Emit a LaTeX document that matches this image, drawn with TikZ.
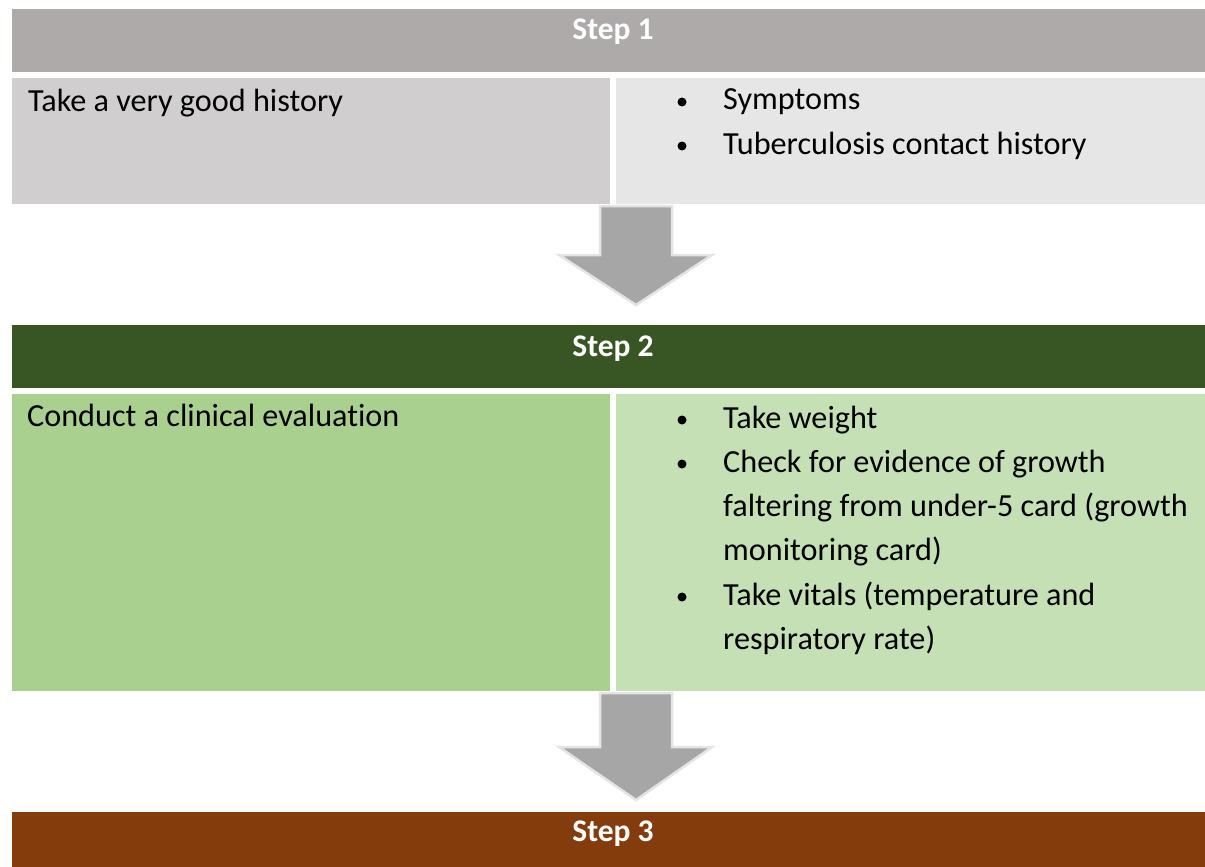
\documentclass[tikz,border=0pt]{standalone}
\usepackage{fontspec}
\setmainfont{Carlito}[Ligatures=NoCommon]
\definecolor{hdrgray}{HTML}{AEAAAA}
\definecolor{cellgrayA}{HTML}{D0CECE}
\definecolor{cellgrayB}{HTML}{E7E6E6}
\definecolor{hdrgreen}{HTML}{375623}
\definecolor{cellgreenA}{HTML}{A9D08E}
\definecolor{cellgreenB}{HTML}{C5E0B4}
\definecolor{hdrbrown}{HTML}{843C0C}
\definecolor{arrowfill}{HTML}{A6A6A6}
\definecolor{arrowedge}{HTML}{E4E4E4}
\begin{document}
\begin{tikzpicture}[x=1pt,y=-1pt,
  cell/.style={draw=none,inner sep=0pt,outer sep=0pt,anchor=north west},
  hdrtext/.style={text=white,inner sep=0pt,anchor=base,font=\fontsize{31.5}{38}\selectfont\bfseries},
  body/.style={inner sep=0pt,anchor=base west,font=\fontsize{32.2}{44.3}\selectfont},
  blt/.style={circle,fill=black,inner sep=0pt,minimum size=9pt},
  blockarrow/.style={fill=arrowfill,draw=arrowedge,line width=2.5pt,line join=miter}]
\useasboundingbox (0,0) rectangle (1205,867);
\fill[white] (0,0) rectangle (1205,867);

% Step 1
\node[cell,fill=hdrgray,minimum width=1193pt,minimum height=63pt] (h1) at (12,9) {};
\node[hdrtext] (h1t) at (613,40) {Step 1};
\node[cell,fill=cellgrayA,minimum width=598pt,minimum height=126pt] (c1l) at (12,78) {};
\node[cell,fill=cellgrayB,minimum width=589pt,minimum height=126pt] (c1r) at (616,78) {};
\node[body] (t1) at (28,111) {Take a very good history};
\node[blt] (b11) at (682,102) {};
\node[body] (t11) at (723,110) {Symptoms};
\node[blt] (b12) at (682,146) {};
\node[body] (t12) at (723,154) {Tuberculosis contact history};

% Arrow 1
\path[blockarrow] (600,206) -- (672,206) -- (672,255) -- (712,255) -- (636,305) -- (559,255) -- (600,255) -- cycle;

% Step 2
\node[cell,fill=hdrgreen,minimum width=1193pt,minimum height=63pt] (h2) at (12,325) {};
\node[hdrtext] (h2t) at (613,356) {Step 2};
\node[cell,fill=cellgreenA,minimum width=598pt,minimum height=297pt] (c2l) at (12,394) {};
\node[cell,fill=cellgreenB,minimum width=589pt,minimum height=297pt] (c2r) at (616,394) {};
\node[body] (t2) at (27,426) {Conduct a clinical evaluation};
\node[blt] (b21) at (682,420) {};
\node[body] (t21) at (723,428) {Take weight};
\node[blt] (b22) at (682,464) {};
\node[body] (t22a) at (723,472) {Check for evidence of growth};
\node[body] (t22b) at (723,516) {faltering from under-5 card (growth};
\node[body] (t22c) at (723,560) {monitoring card)};
\node[blt] (b23) at (682,597) {};
\node[body] (t23a) at (723,605) {Take vitals (temperature and};
\node[body] (t23b) at (723,649) {respiratory rate)};

% Arrow 2
\path[blockarrow] (600,693) -- (672,693) -- (672,747) -- (712,747) -- (636,800) -- (559,747) -- (600,747) -- cycle;

% Step 3
\node[cell,fill=hdrbrown,minimum width=1193pt,minimum height=55pt] (h3) at (12,812) {};
\node[hdrtext] (h3t) at (613,841) {Step 3};
\end{tikzpicture}
\end{document}
